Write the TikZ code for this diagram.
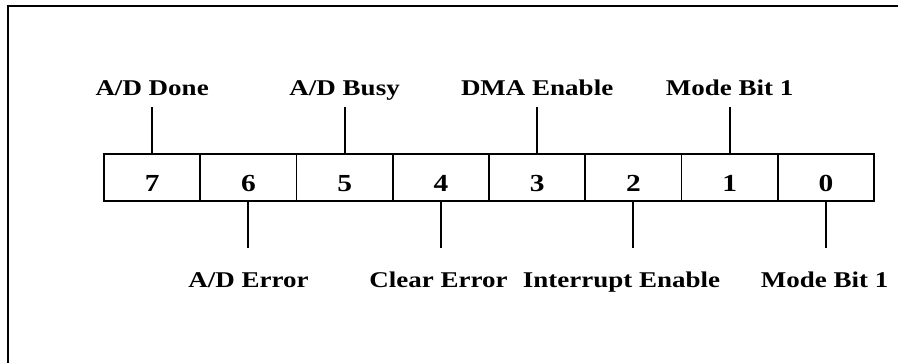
\documentclass[tikz,border=0pt]{standalone}
\usepackage{fontspec}
\setmainfont{Liberation Serif}[FakeStretch=1.2]
\begin{document}
\begin{tikzpicture}[x=1pt,y=-1pt,
  bitcell/.style={draw,line width=1.8pt,rectangle,minimum width=96.25pt,minimum height=46.7pt,
    inner sep=0pt,font=\bfseries\fontsize{24.5}{26}\selectfont,text height=29pt,text depth=0pt},
  fieldname/.style={anchor=base,inner sep=0pt,text height=15pt,text depth=0pt,
    font=\bfseries\fontsize{22.5}{25}\selectfont},
  tick/.style={line width=1.8pt}]
\useasboundingbox (0,0) rectangle (922,363);
% outer frame (left and top edges)
\draw[line width=2pt] (8,363) -- (8,6) -- (898,6);
% register cells, bit 7 on the left
\foreach \b in {0,...,7}{
  \pgfmathsetmacro{\cx}{152.125+96.25*(7-\b)}
  \node[bitcell] (c\b) at (\cx,177.35) {\b};
}
% field names above
\node[fieldname] (l7) at (c7.center |- 0,96) {A/D Done};
\node[fieldname] (l5) at (c5.center |- 0,96) {A/D Busy};
\node[fieldname] (l3) at (c3.center |- 0,96) {DMA Enable};
\node[fieldname] (l1) at (c1.center |- 0,96) {Mode Bit 1};
% field names below
\node[fieldname] (l6) at (248.5,288) {A/D Error};
\node[fieldname] (l4) at (438.5,288) {Clear Error};
\node[fieldname] (l2) at (621.5,288) {Interrupt Enable};
\node[fieldname] (l0) at (824.5,288) {Mode Bit 1};
% leader lines
\foreach \b in {7,5,3,1}{
  \draw[tick,shorten >=11pt] (c\b.north) -- (c\b.north |- l\b.south);
}
\foreach \b in {6,4,2,0}{
  \draw[tick,shorten >=25pt] (c\b.south) -- (c\b.south |- l\b.north);
}
\end{tikzpicture}
\end{document}
